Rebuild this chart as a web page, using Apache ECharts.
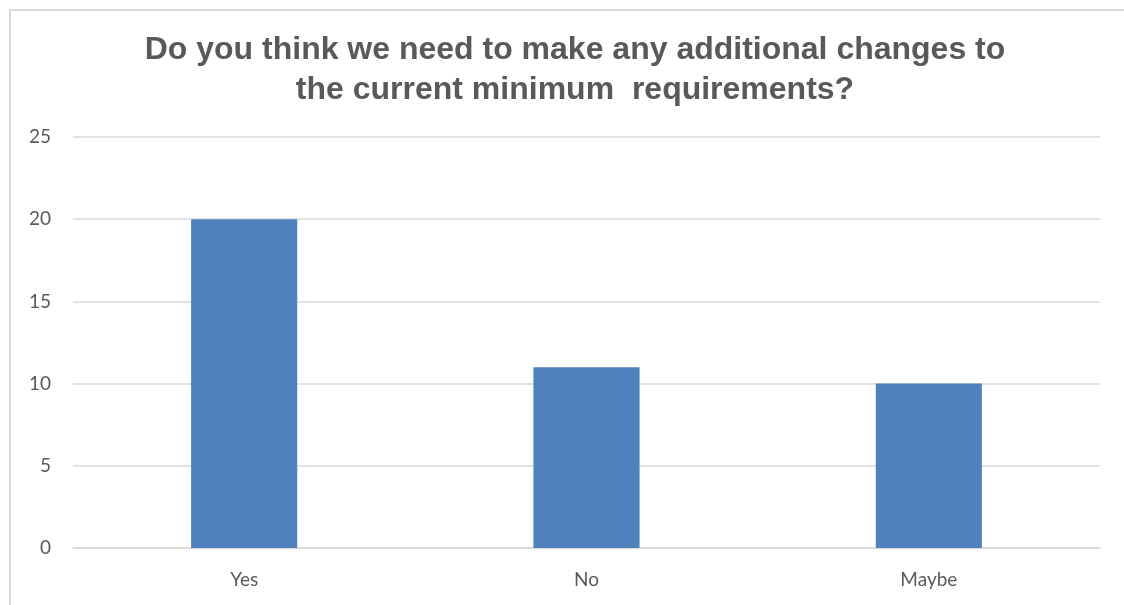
<!DOCTYPE html>
<html>
<head>
<meta charset="utf-8">
<script src="https://cdn.jsdelivr.net/npm/echarts@6/dist/echarts.min.js"></script>
<style>
  html, body { margin: 0; padding: 0; background: #fff; }
  #chart { position: absolute; left: 0; top: 0; width: 1124px; height: 605px; }
</style>
</head>
<body>
<div id="chart"></div>
<script>
// data
const categories = ['Yes', 'No', 'Maybe'];
const counts = [20, 11, 10];
const titleLines = ['Do you think we need to make any additional changes to', 'the current minimum  requirements?'];

const chart = echarts.init(document.getElementById('chart'));

chart.setOption({
    animation: false,
    title: {
        text: titleLines.join('\n'),
        left: 570,
        textAlign: 'center',
        top: 25,
        textStyle: {
            fontFamily: 'Liberation Sans, Arial, sans-serif',
            fontSize: 32,
            fontWeight: 'bold',
            color: '#595959',
            lineHeight: 40
        }
    },
    graphic: [{
        type: 'rect',
        shape: { x: 10, y: 10, width: 1130, height: 620 },
        style: { fill: 'none', stroke: '#d9d9d9', lineWidth: 2 },
        silent: true
    }],
    grid: { left: 73, right: 24, top: 137, bottom: 57 },
    xAxis: {
        type: 'category',
        data: categories,
        axisLine: { lineStyle: { color: '#d9d9d9', width: 1.5 } },
        axisTick: { show: false },
        axisLabel: { fontFamily: 'Lato, sans-serif', fontSize: 19, color: '#595959', margin: 22 }
    },
    yAxis: {
        type: 'value',
        min: 0,
        max: 25,
        interval: 5,
        axisLine: { show: false },
        axisTick: { show: false },
        splitLine: { lineStyle: { color: '#d9d9d9', width: 1.5 } },
        axisLabel: { fontFamily: 'Lato, sans-serif', fontSize: 19, color: '#595959', margin: 22 }
    },
    series: [{
        type: 'bar',
        data: counts,
        barWidth: '31%',
        itemStyle: { color: '#4f81bd' }
    }]
});
</script>
</body>
</html>
